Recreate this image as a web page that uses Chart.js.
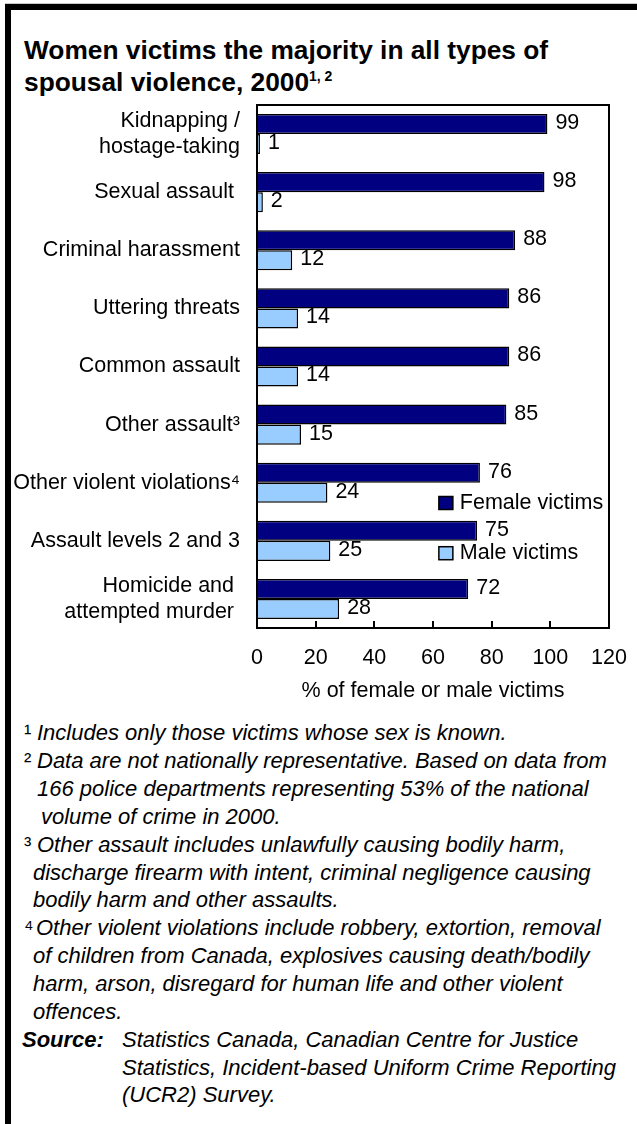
<!DOCTYPE html>
<html>
<head>
<meta charset="utf-8">
<script src="https://cdn.jsdelivr.net/npm/chart.js@4.4.1/dist/chart.umd.min.js"></script>
<style>
  html, body { margin: 0; padding: 0; background: #fff; }
  body { width: 637px; height: 1124px; position: relative; overflow: hidden;
         font-family: "Liberation Sans", Arial, sans-serif; color: #000; }
  #rule { position: absolute; left: 5px; top: 3px; width: 632px; height: 1px; background: #c8c8c8; }
  #frame { position: absolute; left: 5px; top: 4px; width: 700px; height: 1200px;
           border-top: 6px solid #000; border-left: 6px solid #000; box-sizing: border-box; }
  #title { position: absolute; left: 24px; top: 34px; font-weight: bold; font-size: 26.3px;
           line-height: 32px; white-space: nowrap; }
  #title .sup { font-size: 14px; position: relative; top: -10px; }
  #wrap { position: absolute; left: 0; top: 95px; width: 637px; height: 620px; }
  .ln { position: absolute; white-space: nowrap; font-style: italic; font-size: 22px;
        height: 28px; line-height: 28px; }
  .sn { position: absolute; font-style: normal; font-size: 22px; line-height: 28px; }
  .src { font-weight: bold; }
</style>
</head>
<body>
<div id="rule"></div>
<div id="frame"></div>
<div id="title">Women victims the majority in all types of<br>spousal violence, 2000<span class="sup">1, 2</span></div>

<div id="wrap"><canvas id="chart" width="637" height="620"></canvas></div>

<!-- footnotes, one line per row -->
<div class="sn" style="left:24px;top:719px;">¹</div>
<div class="ln" style="left:37px;top:719px;">Includes only those victims whose sex is known.</div>
<div class="sn" style="left:24px;top:747px;">²</div>
<div class="ln" style="left:37px;top:747px;">Data are not nationally representative. Based on data from</div>
<div class="ln" style="left:37px;top:775px;">166 police departments representing 53% of the national</div>
<div class="ln" style="left:41px;top:803px;">volume of crime in 2000.</div>
<div class="sn" style="left:24px;top:831px;">³</div>
<div class="ln" style="left:37px;top:831px;">Other assault includes unlawfully causing bodily harm,</div>
<div class="ln" style="left:33px;top:859px;">discharge firearm with intent, criminal negligence causing</div>
<div class="ln" style="left:33px;top:886px;">bodily harm and other assaults.</div>
<div class="sn" style="left:24px;top:914px;">⁴</div>
<div class="ln" style="left:36px;top:914px;">Other violent violations include robbery, extortion, removal</div>
<div class="ln" style="left:33px;top:942px;">of children from Canada, explosives causing death/bodily</div>
<div class="ln" style="left:33px;top:970px;">harm, arson, disregard for human life and other violent</div>
<div class="ln" style="left:33px;top:998px;">offences.</div>
<div class="ln src" style="left:22px;top:1026px;">Source:</div>
<div class="ln" style="left:122px;top:1026px;">Statistics Canada, Canadian Centre for Justice</div>
<div class="ln" style="left:122px;top:1054px;">Statistics, Incident-based Uniform Crime Reporting</div>
<div class="ln" style="left:122px;top:1081px;">(UCR2) Survey.</div>

<script>
// Offence categories, top to bottom
const categories = [
  ["Kidnapping /", "hostage-taking"],
  "Sexual assault ",
  "Criminal harassment",
  "Uttering threats",
  "Common assault",
  "Other assault³",
  "Other violent violations⁴",
  "Assault levels 2 and 3",
  ["Homicide and ", "attempted murder "]
];
// Share of victims (%) by sex
const femaleVictims = [99, 98, 88, 86, 86, 85, 76, 75, 72];
const maleVictims   = [1, 2, 12, 14, 14, 15, 24, 25, 28];
// Horizontal axis tick values
const xTickValues = [0, 20, 40, 60, 80, 100, 120];

const FONT = '"Liberation Sans", Arial, sans-serif';
Chart.defaults.font.family = FONT;
Chart.defaults.font.size = 21.5;
Chart.defaults.color = '#000';

// Plot frame with short inward ticks on the value axis
const framePlugin = {
  id: 'frame',
  afterDatasetsDraw(chart) {
    const { ctx, chartArea: a, scales: { x } } = chart;
    ctx.save();
    ctx.strokeStyle = '#000';
    ctx.lineWidth = 2;
    ctx.strokeRect(a.left, a.top, a.right - a.left, a.bottom - a.top);
    ctx.beginPath();
    x.ticks.forEach(t => {
      if (t.value === x.min || t.value === x.max) return;
      const px = Math.round(x.getPixelForValue(t.value));
      ctx.moveTo(px, a.bottom);
      ctx.lineTo(px, a.bottom - 7);
    });
    ctx.stroke();
    ctx.restore();
  }
};

// Value printed just past the end of each bar
const valuePlugin = {
  id: 'values',
  afterDatasetsDraw(chart) {
    const { ctx } = chart;
    ctx.save();
    ctx.font = '21.5px ' + FONT;
    ctx.fillStyle = '#000';
    ctx.textAlign = 'left';
    ctx.textBaseline = 'middle';
    chart.data.datasets.forEach((ds, i) => {
      chart.getDatasetMeta(i).data.forEach((el, j) => {
        ctx.fillText(String(ds.data[j]), el.x + 8, el.y - 1);
      });
    });
    ctx.restore();
  }
};

// Legend drawn inside the plot, lower right
const legendPlugin = {
  id: 'insideLegend',
  afterDraw(chart) {
    const { ctx, chartArea: a, scales: { x } } = chart;
    const h = a.bottom - a.top;
    const bx = x.getPixelForValue(62);
    const rows = [a.top + h * 0.761, a.top + h * 0.857];
    ctx.save();
    ctx.font = '21.5px ' + FONT;
    ctx.textBaseline = 'middle';
    ctx.textAlign = 'left';
    chart.data.datasets.forEach((ds, i) => {
      const cy = rows[i];
      ctx.fillStyle = ds.backgroundColor;
      ctx.fillRect(bx, cy - 6.5, 14, 13);
      ctx.strokeStyle = '#000';
      ctx.lineWidth = 1.5;
      ctx.strokeRect(bx, cy - 6.5, 14, 13);
      ctx.fillStyle = '#000';
      ctx.fillText(ds.label, bx + 21, cy);
    });
    ctx.restore();
  }
};

new Chart(document.getElementById('chart'), {
  type: 'bar',
  data: {
    labels: categories,
    datasets: [
      { label: 'Female victims', data: femaleVictims, backgroundColor: '#000080',
        borderColor: '#000', borderWidth: 1.5, categoryPercentage: 0.69, barPercentage: 1 },
      { label: 'Male victims', data: maleVictims, backgroundColor: '#99ccff',
        borderColor: '#000', borderWidth: 1.5, categoryPercentage: 0.69, barPercentage: 1 }
    ]
  },
  options: {
    indexAxis: 'y',
    responsive: false,
    animation: false,
    devicePixelRatio: 1,
    layout: { padding: { top: 10, right: 28, left: 0, bottom: 0 } },
    plugins: { legend: { display: false }, tooltip: { enabled: false } },
    scales: {
      x: {
        type: 'linear', min: 0, max: 120, position: 'bottom',
        grid: { display: false, drawTicks: false },
        border: { display: false },
        ticks: { padding: 17, autoSkip: false, maxRotation: 0 },
        title: { display: true, text: '% of female or male victims', padding: { top: 0, bottom: 11 } },
        afterBuildTicks(s) { s.ticks = xTickValues.map(v => ({ value: v })); },
        afterFit(s) { s.height = 87; s.paddingLeft = 0; s.paddingRight = 0; }
      },
      y: {
        type: 'category',
        grid: { display: false, drawTicks: false },
        border: { display: false },
        ticks: { padding: 17, autoSkip: false },
        afterFit(s) { s.width = 257; s.paddingTop = 0; s.paddingBottom = 0; }
      }
    }
  },
  plugins: [framePlugin, valuePlugin, legendPlugin]
});
</script>
</body>
</html>
